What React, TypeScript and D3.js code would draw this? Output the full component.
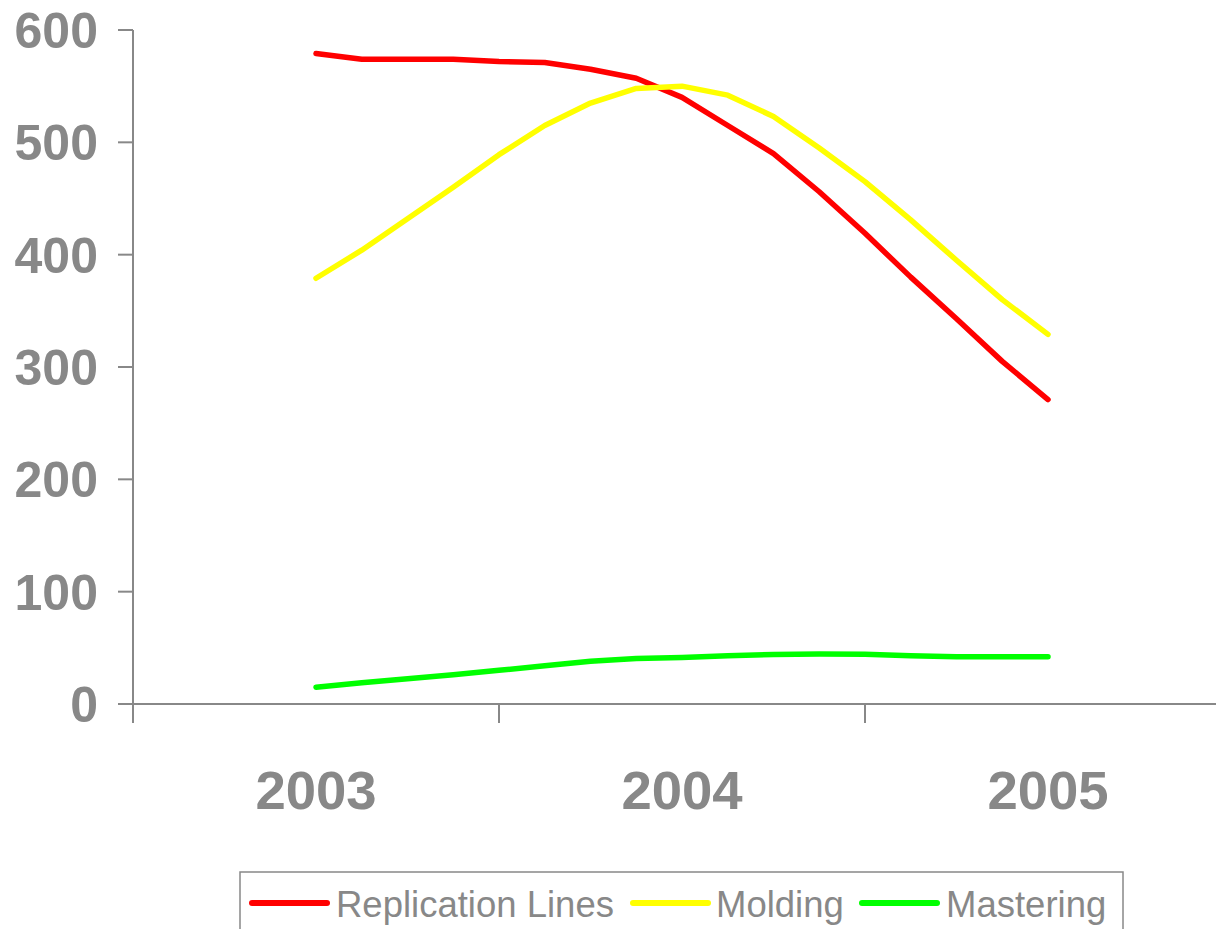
import * as d3 from "d3";

// data
const periods = [
  2003, 2003.125, 2003.25, 2003.375, 2003.5, 2003.625, 2003.75, 2003.875,
  2004, 2004.125, 2004.25, 2004.375, 2004.5, 2004.625, 2004.75, 2004.875, 2005,
];
const replicationLines = [
  579, 574, 574, 574, 572, 571, 565, 557, 540, 515, 490, 456, 419, 380, 343, 305, 271,
];
const molding = [
  379, 404, 432, 460, 489, 515, 535, 548, 550, 542, 523, 495, 465, 431, 395, 360, 329,
];
const mastering = [
  15, 19, 22.5, 26, 30, 34, 38, 40.5, 41.5, 43, 44, 44.5, 44.2, 43, 42, 42, 42,
];
const years = [2003, 2004, 2005];
const yTicks = [0, 100, 200, 300, 400, 500, 600];
const xTicks = [2002.5, 2003.5, 2004.5, 2005.5];

const series = [
  { name: "Replication Lines", values: replicationLines, color: "#ff0000" },
  { name: "Molding", values: molding, color: "#ffff00" },
  { name: "Mastering", values: mastering, color: "#00ff00" },
];

const W = 1216;
const H = 929;
const GREY = "#888888";
const FONT = "'Liberation Sans', Arial, sans-serif";

export default function App() {
  const x = d3.scaleLinear().domain([2002.5, 2005.5]).range([133, 1231]);
  const y = d3.scaleLinear().domain([0, 600]).range([704, 30]);

  const line = d3
    .line<number>()
    .x((_, i) => x(periods[i]))
    .y((d) => y(d));

  // legend layout
  const legendItems = [
    { lineX: 252, textX: 336 },
    { lineX: 633, textX: 716 },
    { lineX: 862, textX: 946 },
  ];

  return (
    <svg
      width={W}
      height={H}
      style={{ position: "absolute", left: 0, top: 0, background: "#fff" }}
      fontFamily={FONT}
    >
      {/* axes */}
      <line x1={133} x2={133} y1={y(600)} y2={723} stroke={GREY} strokeWidth={2} />
      <line x1={133} x2={W} y1={y(0)} y2={y(0)} stroke={GREY} strokeWidth={2} />
      {yTicks.map((t) => (
        <g key={t}>
          <line x1={118} x2={133} y1={y(t)} y2={y(t)} stroke={GREY} strokeWidth={2} />
          <text
            x={98}
            y={y(t) + 18}
            textAnchor="end"
            fontSize={50}
            fontWeight="bold"
            fill={GREY}
          >
            {t}
          </text>
        </g>
      ))}
      {xTicks.map((t) => (
        <line key={t} x1={x(t)} x2={x(t)} y1={y(0)} y2={723} stroke={GREY} strokeWidth={2} />
      ))}
      {years.map((yr) => (
        <text
          key={yr}
          x={x(yr)}
          y={809}
          textAnchor="middle"
          fontSize={54.5}
          fontWeight="bold"
          fill={GREY}
        >
          {yr}
        </text>
      ))}

      {/* lines */}
      {series.map((s) => (
        <path
          key={s.name}
          d={line(s.values) ?? ""}
          fill="none"
          stroke={s.color}
          strokeWidth={5.5}
          strokeLinecap="round"
          strokeLinejoin="round"
        />
      ))}

      {/* legend */}
      <rect x={240} y={872} width={883} height={80} fill="none" stroke={GREY} strokeWidth={1.5} />
      {series.map((s, i) => (
        <g key={s.name}>
          <line
            x1={legendItems[i].lineX}
            x2={legendItems[i].lineX + 75}
            y1={903}
            y2={903}
            stroke={s.color}
            strokeWidth={6}
            strokeLinecap="round"
          />
          <text x={legendItems[i].textX} y={917} fontSize={36.5} fill={GREY}>
            {s.name}
          </text>
        </g>
      ))}
    </svg>
  );
}
